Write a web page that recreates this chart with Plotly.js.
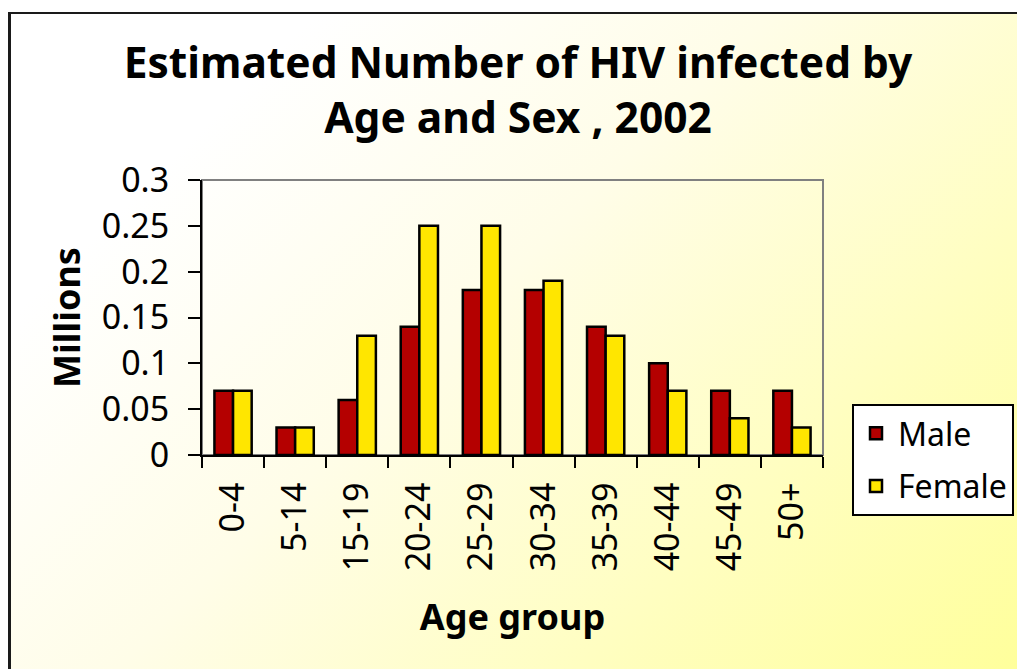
<!DOCTYPE html>
<html>
<head>
<meta charset="utf-8">
<script src="https://cdn.plot.ly/plotly-3.0.1.min.js"></script>
<style>
  html, body { margin: 0; padding: 0; background: #ffffff; width: 1017px; height: 669px; overflow: hidden; }
  #bg { position: absolute; left: 8px; top: 12px; width: 1020px; height: 670px;
        border-left: 3px solid #1a1a1a; border-top: 2px solid #1a1a1a;
        background: linear-gradient(135deg, #ffffff 18%, #fffde8 45%, #ffff99 100%); }
  #chart { position: absolute; left: 0; top: 0; width: 1017px; height: 669px; }
</style>
</head>
<body>
<div id="bg"></div>
<div id="chart"></div>
<script>
const ageGroups = ['0-4', '5-14', '15-19', '20-24', '25-29', '30-34', '35-39', '40-44', '45-49', '50+'];
const maleValues = [0.07, 0.03, 0.06, 0.14, 0.18, 0.18, 0.14, 0.10, 0.07, 0.07];
const femaleValues = [0.07, 0.03, 0.13, 0.25, 0.25, 0.19, 0.13, 0.07, 0.04, 0.03];
const yTickValues = [0, 0.05, 0.1, 0.15, 0.2, 0.25, 0.3];

const FONT = 'Noto Sans, Liberation Sans, sans-serif';

const traces = [
  {
    type: 'bar', name: 'Male', x: ageGroups, y: maleValues, legendgroup: 'm',
    marker: { color: '#b40000', line: { color: '#000000', width: 2.5 } },
    hoverinfo: 'x+y+name'
  },
  {
    type: 'bar', name: 'Female', x: ageGroups, y: femaleValues, legendgroup: 'f',
    marker: { color: '#ffe600', line: { color: '#000000', width: 2.5 } },
    hoverinfo: 'x+y+name'
  }
];

const layout = {
  width: 1017, height: 669,
  paper_bgcolor: 'rgba(0,0,0,0)',
  plot_bgcolor: 'rgba(0,0,0,0)',
  margin: { l: 202, r: 194, t: 180, b: 214, pad: 0, autoexpand: false },
  font: { family: FONT, color: '#000000' },
  barmode: 'group',
  bargap: 0.4,
  bargroupgap: 0,
  showlegend: true,
  title: {
    text: 'Estimated Number of HIV infected by<br>Age and Sex , 2002',
    font: { family: FONT, size: 42.5, weight: 700, color: '#000000' },
    xref: 'container', x: 518 / 1017, xanchor: 'center',
    yref: 'container', y: 1 - 78 / 669, yanchor: 'top'
  },
  xaxis: {
    type: 'category', automargin: false,
    showline: true, linecolor: '#000000', linewidth: 2,
    ticks: 'outside', tickson: 'boundaries', ticklen: 11, tickwidth: 2, tickcolor: '#000000',
    tickangle: -90,
    tickfont: { family: FONT, size: 34, color: '#000000' },
    ticklabelstandoff: 12,
    showgrid: false, zeroline: false,
    title: { text: 'Age group', font: { family: FONT, size: 36, weight: 700, color: '#000000' }, standoff: 34 }
  },
  yaxis: {
    range: [0, 0.3], automargin: false,
    tickmode: 'array', tickvals: yTickValues,
    ticktext: yTickValues.map(v => String(v)),
    showline: true, linecolor: '#000000', linewidth: 2,
    ticks: 'outside', ticklen: 12, tickwidth: 2, tickcolor: '#000000',
    tickfont: { family: FONT, size: 34, color: '#000000' },
    ticklabelstandoff: 12,
    showgrid: false, zeroline: false,
    title: { text: 'Millions', font: { family: FONT, size: 36, weight: 700, color: '#000000' }, standoff: 10 }
  },
  legend: {
    x: (852 - 202) / 621, xanchor: 'left',
    y: (455 - 404) / 275, yanchor: 'top',
    bgcolor: '#ffffff', bordercolor: '#000000', borderwidth: 2,
    font: { family: FONT, size: 32, color: '#000000' },
    traceorder: 'grouped', tracegroupgap: 8,
    itemwidth: 34
  },
  shapes: [
    { type: 'rect', xref: 'paper', yref: 'paper', x0: 0, x1: 1, y0: 0, y1: 1,
      line: { color: '#808080', width: 2 }, layer: 'below' }
  ]
};

Plotly.newPlot('chart', traces, layout, { displayModeBar: false, staticPlot: true });
</script>
</body>
</html>
